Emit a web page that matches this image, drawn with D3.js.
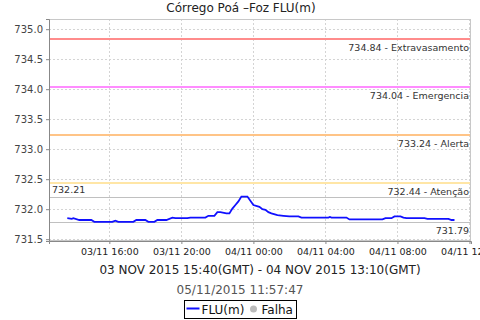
<!DOCTYPE html>
<html>
<head>
<meta charset="utf-8">
<script src="https://cdn.jsdelivr.net/npm/d3@7"></script>
<style>
  body { margin: 0; background: #fff; }
  svg { display: block; font-family: "DejaVu Sans", sans-serif; }
</style>
</head>
<body>
<div id="chart"></div>
<script>
// readings (local time, GMT-2) and level in metres
const times = [
  "2015-11-03 13:40", "2015-11-03 13:55", "2015-11-03 14:00", "2015-11-03 14:20", "2015-11-03 15:00",
  "2015-11-03 15:10", "2015-11-03 16:10", "2015-11-03 16:20", "2015-11-03 16:30", "2015-11-03 17:20",
  "2015-11-03 17:30", "2015-11-03 18:00", "2015-11-03 18:10", "2015-11-03 18:30", "2015-11-03 18:40",
  "2015-11-03 19:10", "2015-11-03 19:30", "2015-11-03 19:40", "2015-11-03 20:20", "2015-11-03 20:30",
  "2015-11-03 21:20", "2015-11-03 21:30", "2015-11-03 21:50", "2015-11-03 22:00", "2015-11-03 22:10",
  "2015-11-03 22:30", "2015-11-03 22:40", "2015-11-03 22:50", "2015-11-03 23:00", "2015-11-03 23:10",
  "2015-11-03 23:20", "2015-11-03 23:40", "2015-11-04 00:00", "2015-11-04 00:20", "2015-11-04 00:30",
  "2015-11-04 00:40", "2015-11-04 00:50", "2015-11-04 01:00", "2015-11-04 01:20", "2015-11-04 01:40",
  "2015-11-04 02:00", "2015-11-04 02:30", "2015-11-04 02:40", "2015-11-04 04:10", "2015-11-04 04:15",
  "2015-11-04 04:20", "2015-11-04 05:10", "2015-11-04 05:20", "2015-11-04 07:10", "2015-11-04 07:20",
  "2015-11-04 07:40", "2015-11-04 07:50", "2015-11-04 08:10", "2015-11-04 08:20", "2015-11-04 08:30",
  "2015-11-04 09:30", "2015-11-04 09:40", "2015-11-04 10:50", "2015-11-04 11:00", "2015-11-04 11:10"
];
const levels = [
  731.85, 731.84, 731.85, 731.82, 731.82,
  731.79, 731.79, 731.81, 731.79, 731.79,
  731.82, 731.82, 731.79, 731.79, 731.82,
  731.82, 731.86, 731.85, 731.85, 731.86,
  731.86, 731.89, 731.89, 731.95, 731.95,
  731.93, 731.93, 732.01, 732.07, 732.13,
  732.21, 732.21, 732.07, 732.04, 732.00,
  731.99, 731.95, 731.93, 731.90, 731.89,
  731.88, 731.88, 731.86, 731.86, 731.87,
  731.86, 731.86, 731.83, 731.83, 731.85,
  731.85, 731.88, 731.88, 731.86, 731.85,
  731.85, 731.84, 731.84, 731.82, 731.82
];

const thresholdValues = [734.84, 734.04, 733.24, 732.44];
const thresholdNames = ["Extravasamento", "Emergencia", "Alerta", "Atenção"];
const thresholdColors = ["rgb(255,140,140)", "rgb(255,140,255)", "rgb(255,196,135)", "rgb(255,230,166)"];

const yTicks = [731.5, 732.0, 732.5, 733.0, 733.5, 734.0, 734.5, 735.0];
const xDomain = ["2015-11-03 12:39", "2015-11-04 12:05"];

const title = "Córrego Poá –Foz FLU(m)";
const subtitle = "03 NOV 2015 15:40(GMT) - 04 NOV 2015 13:10(GMT)";
const stamp = "05/11/2015 11:57:47";

const W = 480, H = 320;
const margin = { top: 19, right: 9, bottom: 79, left: 49 };
const pw = W - margin.left - margin.right,
    ph = H - margin.top - margin.bottom;

const parse = d3.utcParse("%Y-%m-%d %H:%M");
const data = times.map((t, i) => ({ t: parse(t), v: levels[i] }));

const svg = d3.select("#chart")
    .append("svg")
    .attr("width", W)
    .attr("height", H);

const g = svg.append("g")
    .attr("transform", `translate(${margin.left}, ${margin.top})`);

const x = d3.scaleUtc()
    .domain(xDomain.map(parse))
    .range([0, pw]);

const y = d3.scaleLinear()
    .domain([731.47, 735.17])
    .range([ph, 0]);

const xTicks = d3.utcHour.every(4).range(x.domain()[0], x.domain()[1]);

// grid
g.append("g")
    .selectAll("line")
    .data(yTicks)
    .join("line")
    .attr("x1", 0).attr("x2", pw)
    .attr("y1", d => Math.round(y(d)) + 0.5).attr("y2", d => Math.round(y(d)) + 0.5)
    .style("stroke", "#d4d4d4")
    .style("stroke-dasharray", "2,2");
g.append("g")
    .selectAll("line")
    .data(xTicks)
    .join("line")
    .attr("x1", d => Math.round(x(d)) + 0.5).attr("x2", d => Math.round(x(d)) + 0.5)
    .attr("y1", 0).attr("y2", ph)
    .style("stroke", "#d4d4d4")
    .style("stroke-dasharray", "2,2");

// plot outline
g.append("rect")
    .attr("x", 0.5).attr("y", 0.5)
    .attr("width", pw - 1).attr("height", ph - 1)
    .style("fill", "none")
    .style("stroke", "#c8c8c8");

// threshold lines
g.append("g")
    .selectAll("rect")
    .data(thresholdValues)
    .join("rect")
    .attr("x", 1)
    .attr("y", d => Math.round(y(d)) - 1)
    .attr("width", pw - 2)
    .attr("height", 2)
    .style("fill", (d, i) => thresholdColors[i]);

g.append("g")
    .selectAll("text")
    .data(thresholdValues)
    .join("text")
    .attr("x", pw - 2)
    .attr("y", d => Math.round(y(d)) + 12)
    .attr("text-anchor", "end")
    .style("font-size", "9.5px")
    .style("fill", "#333")
    .text((d, i) => d.toFixed(2) + " - " + thresholdNames[i]);

// max / min markers
const vmax = d3.max(levels), vmin = d3.min(levels);
g.append("g")
    .selectAll("rect")
    .data([vmax, vmin])
    .join("rect")
    .attr("x", 1)
    .attr("y", d => Math.round(y(d)))
    .attr("width", pw - 2)
    .attr("height", 1)
    .style("fill", "#c0c0c0");
g.append("text")
    .attr("x", 3)
    .attr("y", Math.round(y(vmax)) - 4)
    .style("font-size", "9.5px")
    .style("fill", "#333")
    .text(vmax.toFixed(2));
g.append("text")
    .attr("x", pw - 2)
    .attr("y", Math.round(y(vmin)) + 12)
    .attr("text-anchor", "end")
    .style("font-size", "9.5px")
    .style("fill", "#333")
    .text(vmin.toFixed(2));

// series
const line = d3.line()
    .x(d => x(d.t))
    .y(d => y(d.v));
g.append("path")
    .datum(data)
    .style("fill", "none")
    .style("stroke", "#1010ff")
    .style("stroke-width", 1.8)
    .attr("d", line);

// axes
const yAxis = g.append("g")
    .call(d3.axisLeft(y).tickValues(yTicks).tickSize(3).tickPadding(3).tickFormat(d3.format(".1f")));
yAxis.select(".domain").style("stroke", "#888");
yAxis.selectAll(".tick line").style("stroke", "#888");
yAxis.selectAll("text")
    .style("font-size", "10px")
    .style("font-family", "DejaVu Sans")
    .style("fill", "#444");

const xAxis = g.append("g")
    .attr("transform", `translate(0, ${ph})`)
    .call(d3.axisBottom(x).tickValues(xTicks).tickSize(3).tickPadding(4).tickFormat(d3.utcFormat("%d/%m %H:%M")));
xAxis.select(".domain").style("stroke", "#888");
xAxis.selectAll(".tick line").style("stroke", "#888");
xAxis.selectAll("text")
    .style("font-size", "9.5px")
    .style("font-family", "DejaVu Sans")
    .style("fill", "#222");

// titles
svg.append("text")
    .attr("x", 241).attr("y", 12)
    .attr("text-anchor", "middle")
    .style("font-size", "12px")
    .style("fill", "#222")
    .text(title);
svg.append("text")
    .attr("x", 260).attr("y", 274)
    .attr("text-anchor", "middle")
    .style("font-size", "12px")
    .style("fill", "#222")
    .text(subtitle);
svg.append("text")
    .attr("x", 240).attr("y", 294)
    .attr("text-anchor", "middle")
    .style("font-size", "12px")
    .style("fill", "#555")
    .text(stamp);

// legend
const lg = svg.append("g").attr("transform", "translate(184.5, 300.5)");
lg.append("rect")
    .attr("width", 112).attr("height", 18)
    .style("fill", "#fff")
    .style("stroke", "#000");
lg.append("line")
    .attr("x1", 2).attr("x2", 15)
    .attr("y1", 8).attr("y2", 8)
    .style("stroke", "#1010ff")
    .style("stroke-width", 2);
lg.append("text")
    .attr("x", 17).attr("y", 13)
    .style("font-size", "12px")
    .style("fill", "#111")
    .text("FLU(m)");
lg.append("circle")
    .attr("cx", 69).attr("cy", 8.5).attr("r", 3.5)
    .style("fill", "#bbb");
lg.append("text")
    .attr("x", 77).attr("y", 13)
    .style("font-size", "12px")
    .style("fill", "#111")
    .text("Falha");
</script>
</body>
</html>
